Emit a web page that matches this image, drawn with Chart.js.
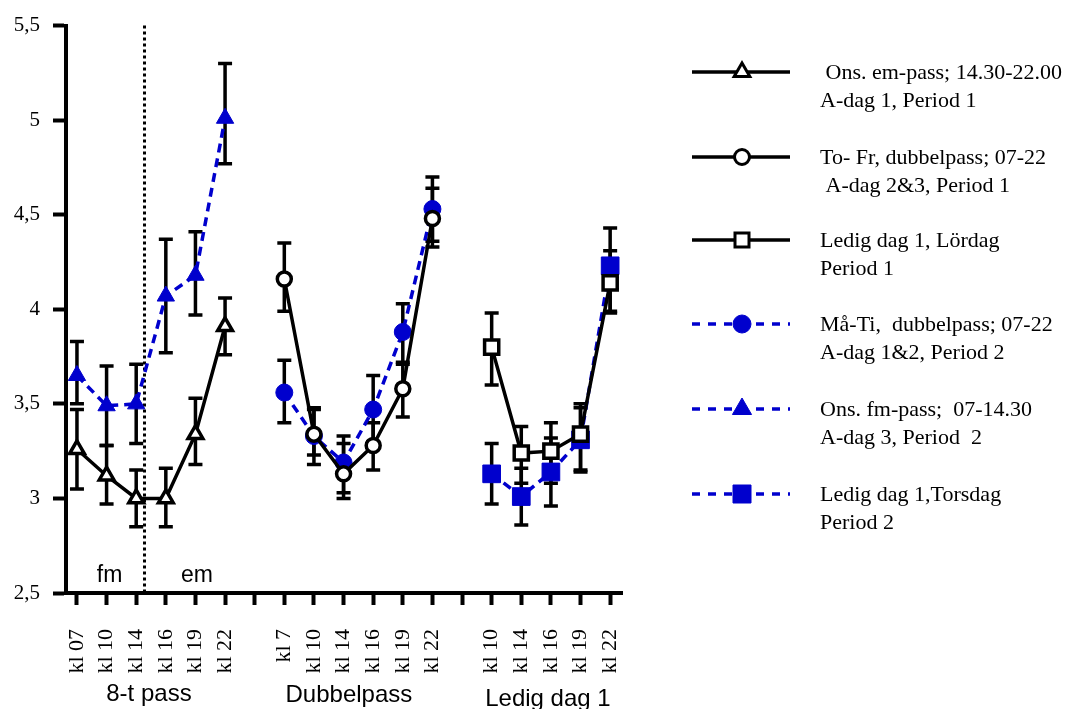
<!DOCTYPE html>
<html>
<head>
<meta charset="utf-8">
<script src="https://cdn.jsdelivr.net/npm/chart.js@4.4.1/dist/chart.umd.min.js"></script>
<style>
  html, body { margin: 0; padding: 0; background: #fff; }
  canvas { display: block; }
</style>
</head>
<body>
<canvas id="lineChart" width="1088" height="709"></canvas>
<script>
// x slots 0..18, slots 6 and 13 are empty and separate the three groups
const tickLabels = ['kl 07', 'kl 10', 'kl 14', 'kl 16', 'kl 19', 'kl 22', '',
                    'kl 7', 'kl 10', 'kl 14', 'kl 16', 'kl 19', 'kl 22', '',
                    'kl 10', 'kl 14', 'kl 16', 'kl 19', 'kl 22'];
const groupNames = ['8-t pass', 'Dubbelpass', 'Ledig dag 1'];
const shiftNames = ['fm', 'em'];
const yTicks = [2.5, 3, 3.5, 4, 4.5, 5, 5.5];

const pass8Slots = [0, 1, 2, 3, 4, 5];
const dubbelSlots = [7, 8, 9, 10, 11, 12];
const ledigSlots = [14, 15, 16, 17, 18];

// Period 1 (black, open markers)
const onsEmMean = [3.26, 3.12, 3.00, 3.00, 3.34, 3.91];
const onsEmLow  = [3.05, 2.97, 2.85, 2.85, 3.18, 3.76];
const onsEmHigh = [3.47, 3.28, 3.15, 3.16, 3.53, 4.06];

const toFrMean = [4.16, 3.34, 3.13, 3.28, 3.58, 4.48];
const toFrLow  = [3.99, 3.18, 3.00, 3.15, 3.43, 4.33];
const toFrHigh = [4.35, 3.47, 3.29, 3.40, 3.71, 4.64];

const lordagMean = [3.80, 3.24, 3.25, 3.34, 4.14];
const lordagLow  = [3.60, 3.08, 3.08, 3.15, 3.98];
const lordagHigh = [3.98, 3.38, 3.40, 3.50, 4.31];

// Period 2 (blue, filled markers)
const maTiMean = [3.56, 3.33, 3.19, 3.47, 3.88, 4.53];
const maTiLow  = [3.40, 3.23, 3.03, 3.30, 3.72, 4.36];
const maTiHigh = [3.73, 3.48, 3.33, 3.65, 4.03, 4.70];

const onsFmMean = [3.65, 3.49, 3.50, 4.07, 4.18, 5.01];
const onsFmLow  = [3.50, 3.28, 3.29, 3.77, 3.97, 4.77];
const onsFmHigh = [3.83, 3.70, 3.71, 4.37, 4.41, 5.30];

const torsdagMean = [3.13, 3.01, 3.14, 3.31, 4.23];
const torsdagLow  = [2.97, 2.86, 2.96, 3.14, 3.99];
const torsdagHigh = [3.29, 3.16, 3.32, 3.48, 4.43];

const legendLabels = [
  [' Ons. em-pass; 14.30-22.00', 'A-dag 1, Period 1'],
  ['To- Fr, dubbelpass; 07-22', ' A-dag 2&3, Period 1'],
  ['Ledig dag 1, Lördag', 'Period 1'],
  ['Må-Ti,  dubbelpass; 07-22', 'A-dag 1&2, Period 2'],
  ['Ons. fm-pass;  07-14.30', 'A-dag 3, Period  2'],
  ['Ledig dag 1,Torsdag', 'Period 2']
];

const BLUE = 'rgb(0,0,205)';
const SERIF = '"Liberation Serif", "Times New Roman", serif';
const SANS = '"Liberation Sans", Arial, sans-serif';

function points(slots, values) {
  return slots.map((x, i) => ({ x: x, y: values[i] }));
}

function blackSeries(label, slots, mean, low, high, style, radius) {
  return {
    label: label, data: points(slots, mean), errLow: low, errHigh: high,
    borderColor: '#000', borderWidth: 3.5, tension: 0,
    pointStyle: style, pointRadius: radius, pointBackgroundColor: '#fff',
    pointBorderColor: '#000', pointBorderWidth: 3.5, order: 0
  };
}

function blueSeries(label, slots, mean, low, high, style, radius) {
  return {
    label: label, data: points(slots, mean), errLow: low, errHigh: high,
    borderColor: BLUE, borderWidth: 3.5, borderDash: [9, 6], tension: 0,
    pointStyle: style, pointRadius: radius, pointBackgroundColor: BLUE,
    pointBorderColor: BLUE, pointBorderWidth: 1, order: 1
  };
}

// simple marker for the hand drawn legend
function marker(ctx, style, x, y, r, fill, stroke, bw) {
  ctx.save();
  ctx.beginPath();
  if (style === 'circle') {
    ctx.arc(x, y, r, 0, Math.PI * 2);
  } else if (style === 'triangle') {
    ctx.moveTo(x, y - r);
    ctx.lineTo(x + r * 0.87, y + r * 0.5);
    ctx.lineTo(x - r * 0.87, y + r * 0.5);
    ctx.closePath();
  } else {
    ctx.rect(x - r, y - r, r * 2, r * 2);
  }
  ctx.fillStyle = fill;
  ctx.fill();
  ctx.lineWidth = bw;
  ctx.strokeStyle = stroke;
  ctx.setLineDash([]);
  ctx.stroke();
  ctx.restore();
}

const errorBars = {
  id: 'errorBars',
  beforeDatasetsDraw(chart) {
    const ctx = chart.ctx;
    const y = chart.scales.y;
    ctx.save();
    ctx.strokeStyle = '#000';
    ctx.lineWidth = 3.5;
    chart.data.datasets.forEach((ds, di) => {
      const meta = chart.getDatasetMeta(di);
      meta.data.forEach((pt, i) => {
        const yl = y.getPixelForValue(ds.errLow[i]);
        const yh = y.getPixelForValue(ds.errHigh[i]);
        ctx.beginPath();
        ctx.moveTo(pt.x, yh); ctx.lineTo(pt.x, yl);
        ctx.moveTo(pt.x - 7, yh); ctx.lineTo(pt.x + 7, yh);
        ctx.moveTo(pt.x - 7, yl); ctx.lineTo(pt.x + 7, yl);
        ctx.stroke();
      });
    });
    ctx.restore();
  }
};

const extras = {
  id: 'extras',
  beforeDatasetsDraw(chart) {
    // dotted fm / em divider
    const ctx = chart.ctx;
    const xs = chart.scales.x;
    const a = chart.chartArea;
    const dx = Math.round(xs.getPixelForValue(2.25)) + 0.5;
    ctx.save();
    ctx.strokeStyle = '#000';
    ctx.lineWidth = 3;
    ctx.setLineDash([3, 3]);
    ctx.beginPath();
    ctx.moveTo(dx, a.top);
    ctx.lineTo(dx, a.bottom);
    ctx.stroke();
    ctx.restore();
  },
  afterDraw(chart) {
    const ctx = chart.ctx;
    const xs = chart.scales.x;
    ctx.save();
    ctx.fillStyle = '#000';
    ctx.textAlign = 'center';
    ctx.textBaseline = 'alphabetic';
    ctx.font = '23px ' + SANS;
    ctx.fillText(shiftNames[0], xs.getPixelForValue(1.1), 582);
    ctx.fillText(shiftNames[1], xs.getPixelForValue(4.05), 582);

    ctx.font = '24px ' + SANS;
    const groupX = [2.43, 9.18, 15.9];
    const groupY = [701, 702, 706];
    groupNames.forEach((g, i) => ctx.fillText(g, xs.getPixelForValue(groupX[i]), groupY[i]));

    // legend
    const rows = [72, 157, 240, 324, 409, 494];
    const styles = [
      ['triangle', 9, '#fff', '#000', 3],
      ['circle', 7.5, '#fff', '#000', 3],
      ['rect', 7, '#fff', '#000', 3],
      ['circle', 9, BLUE, BLUE, 1],
      ['triangle', 11, BLUE, BLUE, 1],
      ['rect', 9, BLUE, BLUE, 1]
    ];
    ctx.textAlign = 'left';
    ctx.textBaseline = 'middle';
    ctx.font = '22px ' + SERIF;
    rows.forEach((ry, i) => {
      const blue = i >= 3;
      ctx.save();
      ctx.strokeStyle = blue ? BLUE : '#000';
      ctx.lineWidth = 3.5;
      ctx.setLineDash(blue ? [8, 8] : []);
      ctx.beginPath();
      ctx.moveTo(692, ry);
      ctx.lineTo(790, ry);
      ctx.stroke();
      ctx.restore();
      const s = styles[i];
      marker(ctx, s[0], 742, ry, s[1], s[2], s[3], s[4]);
      ctx.fillStyle = '#000';
      ctx.fillText(legendLabels[i][0], 820, ry + 1);
      ctx.fillText(legendLabels[i][1], 820, ry + 29);
    });
    ctx.restore();
  }
};

const ctx = document.getElementById('lineChart').getContext('2d');
new Chart(ctx, {
  type: 'line',
  data: {
    datasets: [
      blackSeries(legendLabels[0].join(' '), pass8Slots, onsEmMean, onsEmLow, onsEmHigh, 'triangle', 8.5),
      blackSeries(legendLabels[1].join(' '), dubbelSlots, toFrMean, toFrLow, toFrHigh, 'circle', 7),
      blackSeries(legendLabels[2].join(' '), ledigSlots, lordagMean, lordagLow, lordagHigh, 'rect', 10),
      blueSeries(legendLabels[3].join(' '), dubbelSlots, maTiMean, maTiLow, maTiHigh, 'circle', 8.5),
      blueSeries(legendLabels[4].join(' '), pass8Slots, onsFmMean, onsFmLow, onsFmHigh, 'triangle', 10),
      blueSeries(legendLabels[5].join(' '), ledigSlots, torsdagMean, torsdagLow, torsdagHigh, 'rect', 12.5)
    ]
  },
  options: {
    responsive: false,
    animation: false,
    devicePixelRatio: 1,
    layout: { padding: { top: 23, right: 466, bottom: 0, left: 0 } },
    plugins: {
      legend: { display: false },
      tooltip: { enabled: false }
    },
    scales: {
      x: {
        type: 'linear',
        min: -0.37,
        max: 18.4,
        afterBuildTicks: s => { s.ticks = tickLabels.map((_, i) => ({ value: i })); },
        afterFit: s => { s.height = 116; },
        border: { color: '#000', width: 4 },
        grid: { drawOnChartArea: false, color: '#000', tickColor: '#000', tickLength: 12, tickWidth: 4 },
        ticks: {
          autoSkip: false, minRotation: 90, maxRotation: 90, padding: 24,
          color: '#000', font: { family: SERIF, size: 22 },
          callback: v => tickLabels[v] || ''
        }
      },
      y: {
        min: 2.5,
        max: 5.5,
        afterBuildTicks: s => { s.ticks = yTicks.map(v => ({ value: v })); },
        afterFit: s => { s.width = 66; },
        border: { color: '#000', width: 4 },
        grid: { drawOnChartArea: false, color: '#000', tickColor: '#000', tickLength: 13, tickWidth: 4 },
        ticks: {
          padding: 13, color: '#000', font: { family: SERIF, size: 21 },
          callback: v => String(v).replace('.', ',')
        }
      }
    }
  },
  plugins: [errorBars, extras]
});
</script>
</body>
</html>
